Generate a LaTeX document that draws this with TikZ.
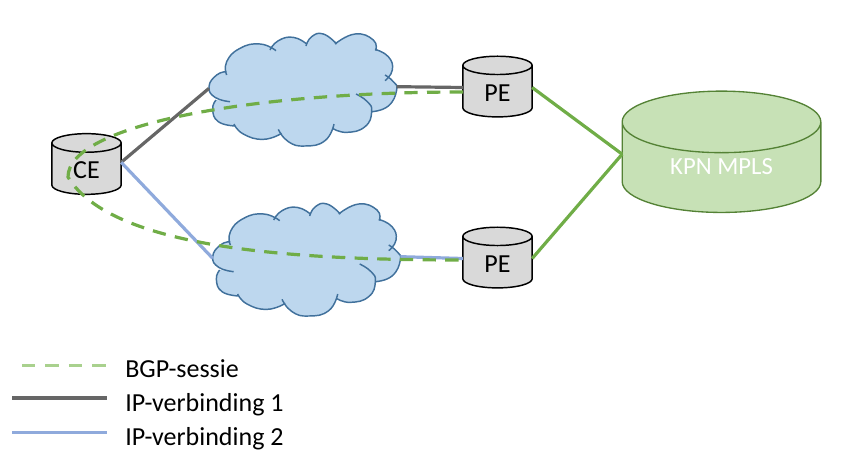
\documentclass[tikz,border=0pt]{standalone}
\usepackage{fontspec}
\setmainfont{Carlito}
\usetikzlibrary{shapes.geometric}

\definecolor{bgpgreen}{HTML}{70AD47}
\definecolor{bgplight}{HTML}{A9D18E}
\definecolor{ipgrey}{HTML}{666666}
\definecolor{ipblue}{HTML}{8FAADC}
\definecolor{wolkfill}{HTML}{BDD7EE}
\definecolor{wolkline}{HTML}{41719C}

\newcommand{\wolklobes}[1]{
	#1 plot[smooth,tension=.85] coordinates {(590,155) (560,165) (537,200) (555,232) (600,245)}
	#1 plot[smooth,tension=.85] coordinates {(558,240) (548,268) (565,305) (615,318)}
	#1 plot[smooth,tension=.85] coordinates {(612,312) (640,342) (700,358) (755,340)}
	#1 plot[smooth,tension=.85] coordinates {(745,328) (775,365) (825,378) (885,362) (912,312)}
	#1 plot[smooth,tension=.85] coordinates {(908,325) (950,337) (1005,320) (1025,275) (1012,245) (978,222)}
	#1 plot[smooth,tension=.85] coordinates {(1025,275) (1075,258) (1100,210) (1090,185) (1065,165)}
	#1 plot[smooth,tension=.85] coordinates {(1065,182) (1087,150) (1075,110) (1035,88)}
	#1 plot[smooth,tension=.85] coordinates {(1037,92) (1030,60) (975,42) (915,72)}
	#1 plot[smooth,tension=.85] coordinates {(920,72) (880,42) (845,50) (828,78)}
	#1 plot[smooth,tension=.85] coordinates {(830,72) (790,52) (745,62) (720,90)}
	#1 plot[smooth,tension=.85] coordinates {(738,92) (690,72) (630,85) (590,125) (590,165)}
}

\tikzset{
	pics/wolk/.style={code={
		\begin{scope}[x=.25pt,y=-.25pt]
			\fill[wolkfill] (590,155) \wolklobes{--} -- cycle;
			\draw[wolkline,line width=1.1pt] \wolklobes{};
			\coordinate (-west) at (537,205);
			\coordinate (-east) at (1100,200);
		\end{scope}
	}}
}

\begin{document}
\begin{tikzpicture}[x=.75pt,y=-.75pt,font=\fontsize{19.5}{23}\selectfont]
	\tikzstyle{every cyl}=[cylinder,shape border rotate=90,draw,cylinder uses custom fill,inner sep=0pt,outer sep=0pt]
	\tikzstyle{router}=[every cyl,line width=1.1pt,cylinder body fill=black!15,cylinder end fill=black!15,minimum width=52pt,minimum height=45.5pt,aspect=.7,text height=14.5pt,text depth=0pt]
	\tikzstyle{mpls}=[every cyl,line width=1pt,draw=bgpgreen!75!black,cylinder body fill=bgplight!65!white,cylinder end fill=bgplight!65!white,minimum width=149pt,minimum height=91pt,aspect=.6,text=white,font=\fontsize{18.5}{22}\selectfont,text height=10pt,text depth=0pt]
	\tikzstyle{iplink}=[line width=2.4pt]
	\tikzstyle{bgp}=[line width=2.4pt,bgpgreen,dash pattern=on 10pt off 7pt]
	\tikzstyle{legend}=[inner sep=0pt,anchor=west]

	\useasboundingbox (0,0) rectangle (867,450);

	\pic (wolk1) at (30,20) {wolk};
	\pic (wolk2) at (33.7,190) {wolk};

	\node[router] (ce) at (86.5,169) {CE};
	\node[router] (pe1) at (497.5,91.5) {PE};
	\node[router] (pe2) [below of=pe1,node distance=128.25pt] {PE};
	\node[mpls] (kpn) at (721.5,167.5) {KPN MPLS};

	\coordinate (bgp_pe1) at (463,92);
	\coordinate (bgp_ce) at (68,177);
	\coordinate (bgp_pe2) at (463,260);

	\path[iplink]
	([yshift=5pt]ce.east) edge [ipgrey] (wolk1-west)
	(wolk1-east) edge [ipgrey] ([yshift=3pt]pe1.west)
	([yshift=5pt]ce.east) edge [ipblue] (wolk2-west)
	(wolk2-east) edge [ipblue] ([yshift=3pt]pe2.west)
	([yshift=3pt]pe1.east) edge [bgpgreen] ([yshift=10pt]kpn.west)
	([yshift=3pt]pe2.east) edge [bgpgreen] ([yshift=10pt]kpn.west);

	\draw[bgp] (bgp_pe1) .. controls (250,92) and (68,125) .. (bgp_ce) .. controls (112,250) and (300,260) .. (bgp_pe2);

	% legenda
	\node[legend] (lbl_bgp) at (125,369) {BGP-sessie};
	\node[legend] (lbl_ip1) at (125,404.5) {IP-verbinding 1};
	\node[legend] (lbl_ip2) at (125,438.5) {IP-verbinding 2};

	\coordinate (key_bgp_a) at (22,365.5);
	\coordinate (key_bgp_b) at (107,365.5);
	\coordinate (key_ip1_a) at (12,398);
	\coordinate (key_ip1_b) at (107,398);
	\coordinate (key_ip2_a) at (12,432.5);
	\coordinate (key_ip2_b) at (107,432.5);

	\draw[line width=2.4pt,bgplight,dash pattern=on 10pt off 7.6pt] (key_bgp_a) -- (key_bgp_b);
	\draw[iplink,ipgrey] (key_ip1_a) -- (key_ip1_b);
	\draw[iplink,ipblue] (key_ip2_a) -- (key_ip2_b);
\end{tikzpicture}
\end{document}
